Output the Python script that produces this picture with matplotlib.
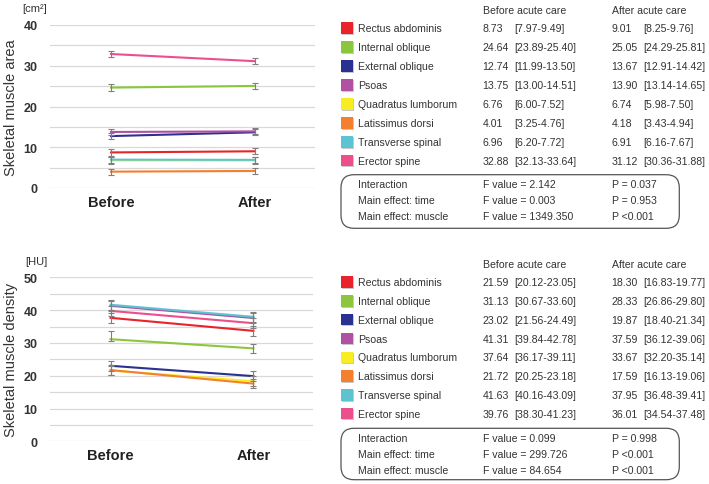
import matplotlib
matplotlib.use("Agg")
import matplotlib.pyplot as plt
from matplotlib.patches import FancyBboxPatch, Rectangle

plt.rcParams['font.family'] = ['Liberation Sans', 'DejaVu Sans']

# ---------------- data ----------------
muscles = ["Rectus abdominis", "Internal oblique", "External oblique", "Psoas",
           "Quadratus lumborum", "Latissimus dorsi", "Transverse spinal", "Erector spine"]
timepoints = ["Before", "After"]

area_before = [8.73, 24.64, 12.74, 13.75, 6.76, 4.01, 6.96, 32.88]
area_before_lo = [7.97, 23.89, 11.99, 13.00, 6.00, 3.25, 6.20, 32.13]
area_before_hi = [9.49, 25.40, 13.50, 14.51, 7.52, 4.76, 7.72, 33.64]
area_after = [9.01, 25.05, 13.67, 13.90, 6.74, 4.18, 6.91, 31.12]
area_after_lo = [8.25, 24.29, 12.91, 13.14, 5.98, 3.43, 6.16, 30.36]
area_after_hi = [9.76, 25.81, 14.42, 14.65, 7.50, 4.94, 7.67, 31.88]
area_stats_labels = ["Interaction", "Main effect: time", "Main effect: muscle"]
area_F = ["2.142", "0.003", "1349.350"]
area_P = ["= 0.037", "= 0.953", "<0.001"]

dens_before = [21.59, 31.13, 23.02, 41.31, 37.64, 21.72, 41.63, 39.76]
dens_before_lo = [20.12, 30.67, 21.56, 39.84, 36.17, 20.25, 40.16, 38.30]
dens_before_hi = [23.05, 33.60, 24.49, 42.78, 39.11, 23.18, 43.09, 41.23]
dens_after = [18.30, 28.33, 19.87, 37.59, 33.67, 17.59, 37.95, 36.01]
dens_after_lo = [16.83, 26.86, 18.40, 36.12, 32.20, 16.13, 36.48, 34.54]
dens_after_hi = [19.77, 29.80, 21.34, 39.06, 35.14, 19.06, 39.41, 37.48]
dens_stats_labels = ["Interaction", "Main effect: time", "Main effect: muscle"]
dens_F = ["0.099", "299.726", "84.654"]
dens_P = ["= 0.998", "<0.001", "<0.001"]

# ---------------- styles ----------------
colors = ["#e8232b", "#8cc63e", "#2b3190", "#b051a3", "#f8ec25", "#f47f2e", "#5dc3d3", "#eb4f8c"]
# in the original density plot the rectus/quadratus line colours are swapped
dens_line_colors = [colors[4], colors[1], colors[2], colors[3], colors[0], colors[5], colors[6], colors[7]]

W, H = 709, 485
fig = plt.figure(figsize=(W / 100, H / 100), dpi=100)
fig.patch.set_facecolor("white")
T = fig.dpi_scale_trans


def P(x, y):
    return x / 100.0, (H - y) / 100.0


def add_axes_px(x0, y0, x1, y1):
    return fig.add_axes([x0 / W, 1 - y1 / H, (x1 - x0) / W, (y1 - y0) / H])


def draw_plot(ax, before, blo, bhi, after, alo, ahi, lcolors, ymax):
    for i in range(len(before)):
        ax.plot([0, 1], [before[i], after[i]], color=lcolors[i], lw=1.5, zorder=3)
    for i in range(len(before)):
        ax.errorbar([0, 1], [before[i], after[i]],
                    yerr=[[before[i] - blo[i], after[i] - alo[i]],
                          [bhi[i] - before[i], ahi[i] - after[i]]],
                    fmt='none', ecolor="#7f7f7f", elinewidth=0.8, capsize=2.2,
                    capthick=0.8, zorder=4)
    ax.set_xlim(-0.424, 1.417)
    ax.set_ylim(0, ymax)
    ax.set_yticks(range(0, ymax + 1, 10))
    ax.set_yticks(range(5, ymax, 10), minor=True)
    ax.grid(True, which='both', axis='y', color="#d9d9d9", lw=0.9, zorder=0)
    ax.set_axisbelow(True)
    for s in ax.spines.values():
        s.set_visible(False)
    ax.set_xticks([0, 1])
    ax.set_xticklabels(timepoints, fontsize=10.5, fontweight='bold', color="#222222")
    ax.tick_params(axis='both', which='both', length=0)
    ax.tick_params(axis='y', pad=9, labelsize=9)
    for lab in ax.get_yticklabels():
        lab.set_fontweight('bold')
        lab.set_color("#333333")
    ax.tick_params(axis='x', pad=5)


def draw_table(y_header, row_y0, row_step, box_y0, box_y1, stat_y0, stat_step,
               before, blo, bhi, after, alo, ahi, slabels, F, Pv):
    fs = 7.6
    tc = "#333333"
    fig.text(*P(482.7, y_header), "Before acute care", transform=T, fontsize=fs, va='center', color=tc)
    fig.text(*P(611.7, y_header), "After acute care", transform=T, fontsize=fs, va='center', color=tc)
    for i, m in enumerate(muscles):
        y = row_y0 + i * row_step
        # shadow + square
        fig.patches.append(Rectangle(P(342, y + 6.5), 0.115, 0.115, transform=T,
                                     facecolor="#c8c8c8", edgecolor='none'))
        fig.patches.append(Rectangle(P(341, y + 5.5), 0.115, 0.115, transform=T,
                                     facecolor=colors[i], edgecolor='none'))
        fig.text(*P(357.7, y), m, transform=T, fontsize=fs, va='center', color=tc)
        fig.text(*P(482.7, y), f"{before[i]:.2f}", transform=T, fontsize=fs, va='center', color=tc)
        fig.text(*P(514.3, y), f"[{blo[i]:.2f}-{bhi[i]:.2f}]", transform=T, fontsize=fs, va='center', color=tc)
        fig.text(*P(611.7, y), f"{after[i]:.2f}", transform=T, fontsize=fs, va='center', color=tc)
        fig.text(*P(643.3, y), f"[{alo[i]:.2f}-{ahi[i]:.2f}]", transform=T, fontsize=fs, va='center', color=tc)
    x0, y0 = P(341, box_y1)
    x1, y1 = P(679.3, box_y0)
    fig.patches.append(FancyBboxPatch((x0, y0), x1 - x0, y1 - y0,
                                      boxstyle="round,pad=0,rounding_size=0.13",
                                      transform=T, facecolor='none', edgecolor="#555555", lw=0.9))
    for k in range(len(slabels)):
        y = stat_y0 + k * stat_step
        fig.text(*P(357.7, y), slabels[k], transform=T, fontsize=fs, va='center', color=tc)
        fig.text(*P(482.7, y), f"F value = {F[k]}", transform=T, fontsize=fs, va='center', color=tc)
        fig.text(*P(611.7, y), f"P {Pv[k]}", transform=T, fontsize=fs, va='center', color=tc)


# ---------- top panel: area ----------
ax1 = add_axes_px(50, 26, 315, 189)
draw_plot(ax1, area_before, area_before_lo, area_before_hi,
          area_after, area_after_lo, area_after_hi, colors, 40)
fig.text(*P(35, 9), "[cm²]", transform=T, fontsize=8, ha='center', va='center', color="#333333")
fig.text(*P(11, 108), "Skeletal muscle area", transform=T, fontsize=10.5, rotation=90,
         ha='center', va='center', color="#333333")
draw_table(10.7, 29.3, 18.95, 175.7, 229.3, 185.3, 16.0,
           area_before, area_before_lo, area_before_hi,
           area_after, area_after_lo, area_after_hi, area_stats_labels, area_F, area_P)

# ---------- bottom panel: density ----------
ax2 = add_axes_px(50, 278.3, 313, 442.3)
draw_plot(ax2, dens_before, dens_before_lo, dens_before_hi,
          dens_after, dens_after_lo, dens_after_hi, dens_line_colors, 50)
fig.text(*P(36, 262), "[HU]", transform=T, fontsize=8, ha='center', va='center', color="#333333")
fig.text(*P(11, 360), "Skeletal muscle density", transform=T, fontsize=10.5, rotation=90,
         ha='center', va='center', color="#333333")
draw_table(265, 283.3, 18.8, 429.3, 480.7, 439.3, 15.9,
           dens_before, dens_before_lo, dens_before_hi,
           dens_after, dens_after_lo, dens_after_hi, dens_stats_labels, dens_F, dens_P)

fig.savefig("out.png", dpi=100)
